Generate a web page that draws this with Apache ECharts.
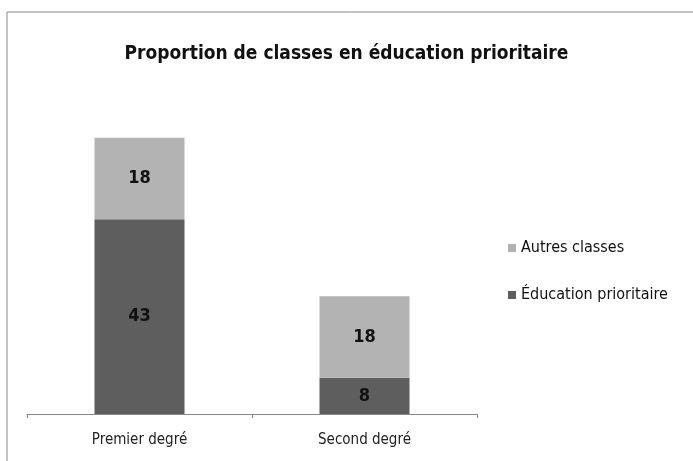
<!DOCTYPE html>
<html lang="fr">
<head>
  <meta charset="UTF-8">
  <title>Proportion de classes en éducation prioritaire</title>
  <script src="https://cdn.jsdelivr.net/npm/echarts@6/dist/echarts.min.js"></script>
  <style>
    html, body { margin: 0; padding: 0; background: #fff; }
    #chart { width: 693px; height: 461px; }
  </style>
</head>
<body>
  <div id="chart"></div>
  <script>
    // data
    const categories = ['Premier degré', 'Second degré'];
    const prioritaire = [43, 8];
    const autres = [18, 18];

    const font = '"DejaVu Sans Condensed", "DejaVu Sans", sans-serif';
    const chart = echarts.init(document.getElementById('chart'));

    const barLabel = {
      show: true,
      position: 'inside',
      fontFamily: font,
      fontSize: 18,
      fontWeight: 'bold',
      color: '#111'
    };

    const option = {
      animation: false,
      backgroundColor: '#fff',
      title: {
        text: 'Proportion de classes en éducation prioritaire',
        left: 'center',
        top: 40,
        textStyle: { fontFamily: font, fontSize: 19, fontWeight: 'bold', color: '#111' }
      },
      graphic: [{
        type: 'rect',
        shape: { x: 7, y: 12, width: 720, height: 480 },
        style: { fill: 'none', stroke: '#888', lineWidth: 1 },
        silent: true
      }],
      legend: {
        orient: 'vertical',
        left: 503,
        top: 235,
        itemWidth: 8,
        itemHeight: 8,
        itemGap: 31,
        icon: 'rect',
        data: ['Autres classes', 'Éducation prioritaire'],
        textStyle: { fontFamily: font, fontSize: 16, color: '#111' }
      },
      grid: { left: 27, right: 216, top: 97, bottom: 47 },
      xAxis: {
        type: 'category',
        data: categories,
        axisLine: { lineStyle: { color: '#888' } },
        axisTick: { show: true, length: 4, lineStyle: { color: '#888' } },
        axisLabel: { fontFamily: font, fontSize: 15, color: '#222', margin: 19 }
      },
      yAxis: {
        type: 'value',
        min: 0,
        max: 70,
        show: false
      },
      series: [
        {
          name: 'Éducation prioritaire',
          type: 'bar',
          stack: 'total',
          barWidth: '40%',
          data: prioritaire,
          itemStyle: { color: '#5e5e5e' },
          label: barLabel
        },
        {
          name: 'Autres classes',
          type: 'bar',
          stack: 'total',
          barWidth: '40%',
          data: autres,
          itemStyle: { color: '#b3b3b3' },
          label: barLabel
        }
      ]
    };

    chart.setOption(option);
  </script>
</body>
</html>
